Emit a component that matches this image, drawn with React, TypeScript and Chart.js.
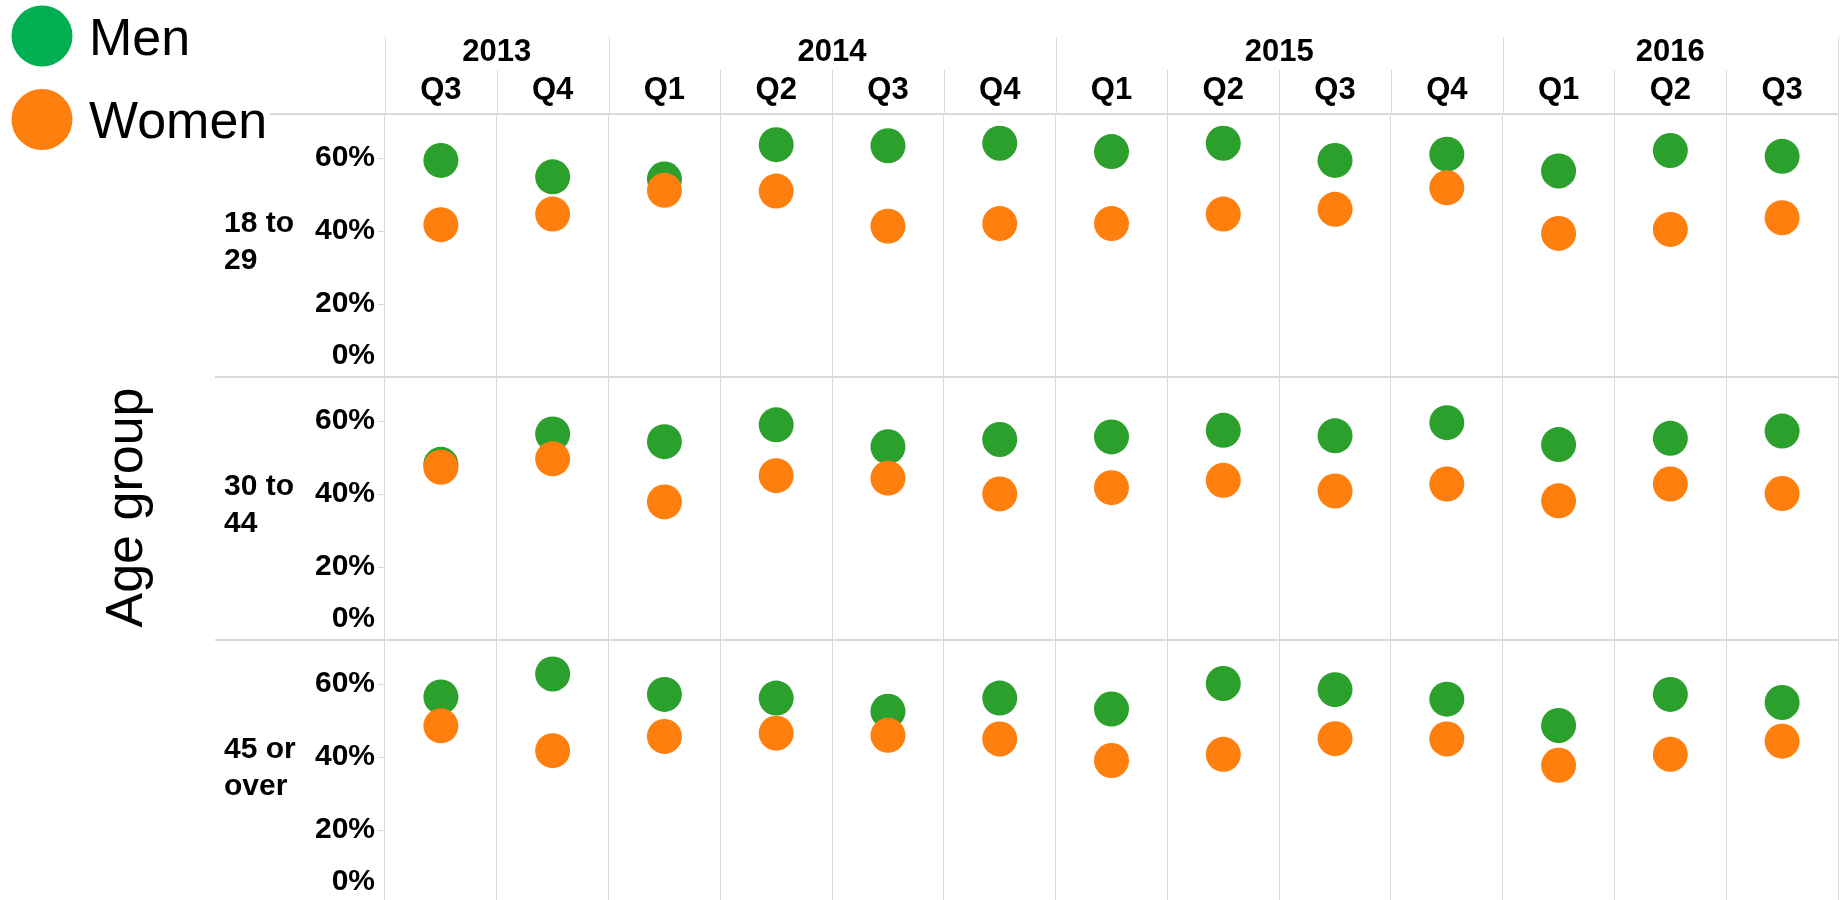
import React, { useEffect, useRef } from 'react';
import { Chart, registerables } from 'chart.js';

Chart.register(...registerables);

// ---- data ----
const quarters = ['Q3', 'Q4', 'Q1', 'Q2', 'Q3', 'Q4', 'Q1', 'Q2', 'Q3', 'Q4', 'Q1', 'Q2', 'Q3'];
const years = ['2013', '2013', '2014', '2014', '2014', '2014', '2015', '2015', '2015', '2015', '2016', '2016', '2016'];
const categories = quarters.map((q, i) => years[i] + ' ' + q);
const yearGroups = ['2013', '2014', '2015', '2016'];
const ageGroups = [['18 to', '29'], ['30 to', '44'], ['45 or', 'over']];
const yTicks = [0, 20, 40, 60];
const seriesNames = ['Men', 'Women'];

const men18 = [59.3, 54.8, 54.2, 63.6, 63.3, 64.0, 61.7, 64.0, 59.3, 61.0, 56.4, 62.0, 60.4];
const women18 = [41.7, 44.6, 51.1, 50.9, 41.3, 42.0, 42.0, 44.6, 45.9, 51.8, 39.3, 40.4, 43.6];
const men30 = [48.1, 56.4, 54.3, 58.9, 52.9, 54.9, 55.6, 57.4, 55.9, 59.5, 53.5, 55.2, 57.2];
const women30 = [47.3, 49.6, 37.8, 45.0, 44.3, 40.0, 41.7, 43.7, 40.8, 42.7, 38.1, 42.7, 40.1];
const men45 = [56.4, 62.7, 57.1, 56.1, 52.5, 56.1, 53.1, 60.1, 58.4, 55.8, 48.6, 57.1, 54.9];
const women45 = [48.5, 41.7, 45.6, 46.5, 45.9, 44.9, 39.0, 40.7, 45.0, 44.9, 37.7, 40.7, 44.3];

const menByGroup = [men18, men30, men45];
const womenByGroup = [women18, women30, women45];

// ---- styles ----
const GREEN = '#2ca02c';
const ORANGE = '#ff7f0e';
const LEGEND_GREEN = '#00b050';
const LEGEND_ORANGE = '#ff7f0e';
const GRID = '#d9d9d9';
const FONT = '"Liberation Sans", Arial, sans-serif';
const axisIds = ['yA', 'yB', 'yC'];

const decorPlugin = {
  id: 'decor',
  beforeDatasetsDraw(chart: any) {
    const ctx = chart.ctx;
    const x = chart.scales.x;
    const area = chart.chartArea;
    const n = categories.length;
    const half = (x.getPixelForValue(1) - x.getPixelForValue(0)) / 2;
    const edge = (i: number) => (i < n ? x.getPixelForValue(i) - half : x.getPixelForValue(n - 1) + half);
    ctx.save();
    ctx.strokeStyle = GRID;
    ctx.lineWidth = 1;
    for (let i = 0; i <= n; i++) {
      const isYear = i === 0 || i === n || years[i] !== years[i - 1];
      const px = Math.round(edge(i)) + 0.5;
      ctx.beginPath();
      ctx.moveTo(px, isYear ? 37 : 70);
      ctx.lineTo(px, area.top);
      ctx.stroke();
    }
    // horizontal dividers
    ctx.lineWidth = 2;
    ctx.beginPath();
    ctx.moveTo(270, area.top);
    ctx.lineTo(area.right, area.top);
    ctx.stroke();
    for (let g = 1; g < axisIds.length; g++) {
      const s = chart.scales[axisIds[g]];
      ctx.beginPath();
      ctx.moveTo(215, s.top);
      ctx.lineTo(area.right, s.top);
      ctx.stroke();
    }
    // y tick marks
    ctx.lineWidth = 1;
    axisIds.forEach((id) => {
      const s = chart.scales[id];
      yTicks.forEach((v) => {
        if (v === 0) return;
        const py = Math.round(s.getPixelForValue(v)) + 0.5;
        ctx.beginPath();
        ctx.moveTo(area.left - 7, py);
        ctx.lineTo(area.left, py);
        ctx.stroke();
      });
    });
    ctx.restore();
  },
  afterDraw(chart: any) {
    const ctx = chart.ctx;
    const x = chart.scales.x;
    const area = chart.chartArea;
    const n = categories.length;
    ctx.save();
    ctx.fillStyle = '#000';
    // header
    ctx.textAlign = 'center';
    ctx.textBaseline = 'middle';
    ctx.font = `bold 31px ${FONT}`;
    yearGroups.forEach((yr) => {
      const idx = years.map((y, i) => (y === yr ? i : -1)).filter((i) => i >= 0);
      const cx = (x.getPixelForValue(idx[0]) + x.getPixelForValue(idx[idx.length - 1])) / 2;
      ctx.fillText(yr, cx, 52);
    });
    for (let i = 0; i < n; i++) {
      ctx.fillText(quarters[i], x.getPixelForValue(i), 90);
    }
    // y tick labels and group labels
    ctx.font = `bold 30px ${FONT}`;
    axisIds.forEach((id, g) => {
      const s = chart.scales[id];
      ctx.textAlign = 'right';
      yTicks.forEach((v) => {
        const py = s.getPixelForValue(v) + (v === 0 ? -21 : 0);
        ctx.fillText(v + '%', area.left - 10, py);
      });
      ctx.textAlign = 'left';
      const cy = (s.top + s.bottom) / 2;
      ctx.fillText(ageGroups[g][0], 224, cy - 21.5);
      ctx.fillText(ageGroups[g][1], 224, cy + 15.5);
    });
    // axis title
    ctx.save();
    ctx.translate(142, 507.5);
    ctx.rotate(-Math.PI / 2);
    ctx.textAlign = 'center';
    ctx.textBaseline = 'alphabetic';
    ctx.font = `52px ${FONT}`;
    ctx.fillText('Age group', 0, 0);
    ctx.restore();
    // legend
    const legend = [
      { name: seriesNames[0], color: LEGEND_GREEN, cy: 36, base: 55 },
      { name: seriesNames[1], color: LEGEND_ORANGE, cy: 119.5, base: 138 },
    ];
    ctx.font = `52px ${FONT}`;
    ctx.textAlign = 'left';
    ctx.textBaseline = 'alphabetic';
    legend.forEach((l) => {
      ctx.fillStyle = l.color;
      ctx.beginPath();
      ctx.arc(42, l.cy, 30.5, 0, Math.PI * 2);
      ctx.fill();
      ctx.fillStyle = '#000';
      ctx.fillText(l.name, 89, l.base);
    });
    ctx.restore();
  },
};

export default function App() {
  const canvasRef = useRef<HTMLCanvasElement | null>(null);

  useEffect(() => {
    document.body.style.margin = '0';
    const canvas = canvasRef.current;
    if (!canvas) return;

    const datasets: any[] = [];
    axisIds.forEach((id, g) => {
      datasets.push({
        label: seriesNames[0] + ' ' + ageGroups[g].join(' '),
        data: menByGroup[g],
        yAxisID: id,
        xAxisID: 'x',
        showLine: false,
        pointRadius: 17.5,
        pointHoverRadius: 17.5,
        pointBackgroundColor: GREEN,
        backgroundColor: GREEN,
        pointBorderWidth: 0,
        borderWidth: 0,
        order: 2,
      });
      datasets.push({
        label: seriesNames[1] + ' ' + ageGroups[g].join(' '),
        data: womenByGroup[g],
        yAxisID: id,
        xAxisID: 'x',
        showLine: false,
        pointRadius: 17.5,
        pointHoverRadius: 17.5,
        pointBackgroundColor: ORANGE,
        backgroundColor: ORANGE,
        pointBorderWidth: 0,
        borderWidth: 0,
        order: 1,
      });
    });

    const yAxis = (weight: number) => ({
      type: 'linear',
      position: 'left',
      stack: 'age',
      stackWeight: 1,
      weight,
      min: 0,
      max: 72,
      ticks: { display: false },
      grid: { display: false },
      border: { display: false },
      afterFit: (s: any) => {
        s.width = 385;
      },
    });

    const chart = new Chart(canvas, {
      type: 'line',
      data: { labels: categories, datasets },
      options: {
        responsive: false,
        animation: false,
        events: [],
        layout: { autoPadding: false, padding: { left: 0, right: 7, top: 0, bottom: 0 } },
        plugins: { legend: { display: false }, title: { display: false }, tooltip: { enabled: false } },
        scales: {
          x: {
            type: 'category',
            position: 'top',
            offset: true,
            ticks: { display: false },
            grid: { display: true, offset: true, color: GRID, lineWidth: 1, drawTicks: false },
            border: { display: false },
            afterFit: (s: any) => {
              s.height = 114;
            },
          },
          yA: yAxis(3),
          yB: yAxis(2),
          yC: yAxis(1),
        } as any,
      },
      plugins: [decorPlugin],
    } as any);

    return () => chart.destroy();
  }, []);

  return (
    <div style={{ width: 1845, height: 900, overflow: 'hidden', position: 'relative', background: '#fff' }}>
      <canvas ref={canvasRef} width={1845} height={903} style={{ display: 'block', width: 1845, height: 903 }} />
    </div>
  );
}
